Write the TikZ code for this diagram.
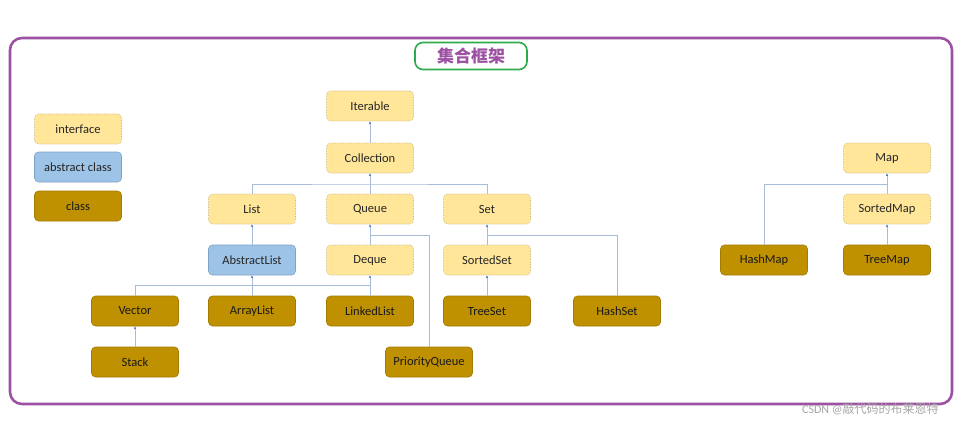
\documentclass[tikz,border=0pt]{standalone}
\usepackage{fontspec}
\setmainfont{Carlito}
\newfontfamily\cjk{Noto Sans CJK SC}
\usetikzlibrary{arrows.meta}
\definecolor{frame}{HTML}{9C51A3}
\definecolor{ttl}{HTML}{2DAA4A}
\definecolor{ifill}{HTML}{FFE699}
\definecolor{idraw}{HTML}{C8B074}
\definecolor{afill}{HTML}{9DC3E6}
\definecolor{adraw}{HTML}{7EA3C8}
\definecolor{cfill}{HTML}{BF9000}
\definecolor{cdraw}{HTML}{A47C00}
\definecolor{conn}{HTML}{A8BBD8}
\definecolor{tip}{HTML}{4472C4}
\begin{document}
\begin{tikzpicture}[x=1pt,y=-1pt,
  box/.style={rounded corners=4pt,minimum width=87pt,minimum height=30pt,inner sep=0pt,
    font=\fontsize{12.5}{14}\selectfont,text=black!85},
  iface/.style={box,fill=ifill,draw=idraw,densely dotted,line width=0.6pt},
  abst/.style={box,fill=afill,draw=adraw,line width=0.6pt},
  cls/.style={box,fill=cfill,draw=cdraw,line width=0.6pt,text=black!90},
  conline/.style={draw=conn,line width=0.7pt},
  arr/.style={conline,-{Stealth[length=3pt,width=2.4pt,color=tip]}}]
\useasboundingbox (0,0) rectangle (979,433);
\fill[white] (0,0) rectangle (979,433);
% frame
\draw[frame,line width=2.6pt,rounded corners=12pt] (10,38) rectangle (952,404);
\node[draw=ttl,line width=1.6pt,rounded corners=8pt,minimum width=112pt,minimum height=27pt,
  text=frame,font=\cjk\bfseries\fontsize{17}{19}\selectfont] (title) at (471,56) {集合框架};
% legend
\node[iface] (lgi) at (78,129) {interface};
\node[abst] (lga) at (78,167) {abstract class};
\node[cls] (lgc) at (78,206) {class};
% collection tree
\node[iface] (iter) at (370,106) {Iterable};
\node[iface] (coll) at (370,158) {Collection};
\node[iface] (list) at (252,209) {List};
\node[iface] (queue) at (370,209) {Queue};
\node[iface] (set) at (487,209) {Set};
\node[abst] (alist) at (252,260) {AbstractList};
\node[iface] (deque) at (370,260) {Deque};
\node[iface] (sset) at (487,260) {SortedSet};
\node[cls] (vector) at (135,311) {Vector};
\node[cls] (alst) at (252,311) {ArrayList};
\node[cls] (llist) at (370,311) {LinkedList};
\node[cls] (tset) at (487,311) {TreeSet};
\node[cls] (hset) at (617,311) {HashSet};
\node[cls] (stack) at (135,362) {Stack};
\node[cls] (pq) at (429,362) {PriorityQueue};
% map tree
\node[iface] (map) at (887,158) {Map};
\node[iface] (smap) at (887,209) {SortedMap};
\node[cls] (hmap) at (764,260) {HashMap};
\node[cls] (tmap) at (887,260) {TreeMap};
% connectors
\draw[arr] (coll.north) -- (iter.south);
\coordinate (cb) at (370,184);
\draw[arr] (queue.north) -- (coll.south);
\draw[conline] (list.north) |- (cb) -| (set.north);
\draw[arr] (alist.north) -- (list.south);
\draw[arr] (deque.north) -- (queue.south);
\draw[conline] (pq.north) |- (370,235);
\draw[arr] (sset.north) -- (set.south);
\draw[conline] (hset.north) |- (487,235);
\draw[arr] (tset.north) -- (sset.south);
\draw[arr] (alst.north) -- (alist.south);
\draw[conline] (vector.north) |- (llist.north |- 0,285) -- (llist.north);
\draw[arr] (llist.north) -- (deque.south);
\draw[arr] (stack.north) -- (vector.south);
\draw[arr] (smap.north) -- (map.south);
\draw[conline] (hmap.north) |- (887,184);
\draw[arr] (tmap.north) -- (smap.south);
% watermark
\node[anchor=west,text=black!35,font=\fontsize{12}{14}\selectfont,inner sep=0pt] (wm) at (802,409)
  {CSDN @{\cjk 敲代码的布莱恩特}};
\end{tikzpicture}
\end{document}
